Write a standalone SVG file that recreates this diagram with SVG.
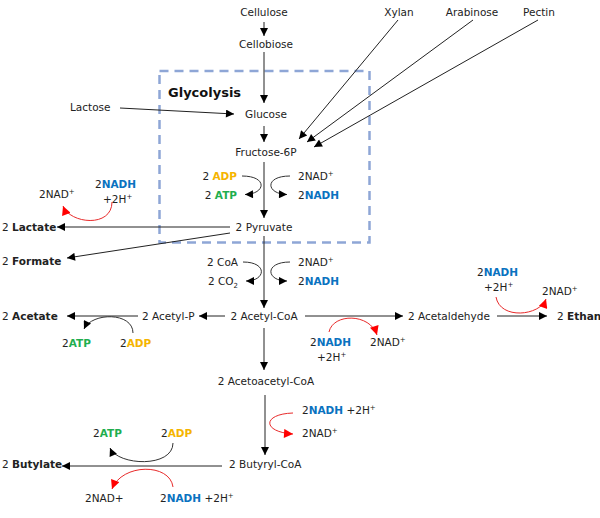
<svg xmlns="http://www.w3.org/2000/svg" width="600" height="518" viewBox="0 0 600 518">
<style>
text{font-family:"DejaVu Sans","Verdana",sans-serif;font-size:10.5px;fill:#222}
.b{font-weight:bold}
.adp{fill:#f5b400;font-weight:bold}
.atp{fill:#1fae4f;font-weight:bold}
.nadh{fill:#0a72c0;font-weight:bold}
.sup{font-size:7px}
.m{text-anchor:middle}
.e{text-anchor:end}
.ln{stroke:#222;stroke-width:1;fill:none;marker-end:url(#ah)}
.cv{stroke:#333;stroke-width:1;fill:none;marker-end:url(#ah)}
.rc{stroke:#e82a2a;stroke-width:1;fill:none;marker-end:url(#rh)}
</style>
<defs>
<marker id="ah" viewBox="0 0 10 10" refX="10" refY="5" markerWidth="10" markerHeight="8" markerUnits="userSpaceOnUse" orient="auto"><path d="M0,0L10,5L0,10z" fill="#000"/></marker>
<marker id="rh" viewBox="0 0 10 10" refX="10" refY="5" markerWidth="10" markerHeight="9" markerUnits="userSpaceOnUse" orient="auto"><path d="M0,0L10,5L0,10z" fill="#f00"/></marker>
</defs>
<rect id="glycolysis-box" x="159.5" y="71" width="210" height="171.5" fill="none" stroke="#8ea6d6" stroke-width="2.5" stroke-dasharray="9,6"/>
<text class="b" x="168" y="97" style="font-size:13px;fill:#111">Glycolysis</text>

<g id="connectors">
<line class="ln" x1="264" y1="22" x2="264" y2="36"/>
<line class="ln" x1="264" y1="52" x2="264" y2="103"/>
<line class="ln" x1="120" y1="108" x2="234" y2="114"/>
<line class="ln" x1="264" y1="126" x2="264" y2="142"/>
<line class="ln" x1="398" y1="20" x2="299" y2="139"/>
<line class="ln" x1="473" y1="20" x2="307" y2="142"/>
<line class="ln" x1="538" y1="20" x2="314" y2="147"/>
<line class="ln" x1="264" y1="162" x2="264" y2="218"/>
<path class="cv" d="M242,176 C268,176 266,194 245,194.5"/>
<path class="cv" d="M290,176 C264,176 266,194 287,194.5"/>
<line class="ln" x1="230" y1="227" x2="57" y2="227"/>
<line class="ln" x1="230" y1="233" x2="67" y2="258"/>
<path class="rc" d="M112,202 C112,228 70,224 63,206"/>
<line class="ln" x1="264" y1="236" x2="264" y2="308"/>
<path class="cv" d="M243,262 C268,262 266,281 246,281"/>
<path class="cv" d="M290,262 C264,262 266,281 287,281"/>
<line class="ln" x1="225" y1="316" x2="199" y2="316"/>
<line class="ln" x1="138" y1="316" x2="67" y2="316"/>
<path class="cv" d="M133,333 C133,312 92,312 84,329"/>
<line class="ln" x1="305" y1="316" x2="403" y2="316"/>
<path class="rc" d="M329,332 C333,313 370,313 377,335"/>
<line class="ln" x1="497" y1="316" x2="547" y2="316"/>
<path class="rc" d="M496,297 C500,320 540,316 546,299"/>
<line class="ln" x1="264" y1="328" x2="264" y2="370"/>
<line class="ln" x1="265" y1="395" x2="265" y2="455"/>
<path class="rc" d="M293,413 C262,414 262,432 293,434"/>
<line class="ln" x1="222" y1="466" x2="62" y2="466"/>
<path class="cv" d="M173,443 C173,468 118,466 110,448"/>
<path class="rc" d="M173,487 C170,463 122,463 112,489"/>
</g>

<g id="cellulose"><text class="m" x="264" y="16">Cellulose</text></g>
<g id="cellobiose"><text class="m" x="266" y="48">Cellobiose</text></g>
<g id="xylan"><text class="m" x="399" y="16">Xylan</text></g>
<g id="arabinose"><text class="m" x="472" y="16">Arabinose</text></g>
<g id="pectin"><text class="m" x="539" y="16">Pectin</text></g>
<g id="lactose"><text x="70" y="111">Lactose</text></g>
<g id="glucose"><text class="m" x="266" y="118">Glucose</text></g>
<g id="fructose"><text class="m" x="266" y="156">Fructose-6P</text></g>
<g id="glyc-atp">
<text class="e" x="237" y="180">2 <tspan class="adp">ADP</tspan></text>
<text class="e" x="237" y="199">2 <tspan class="atp">ATP</tspan></text>
</g>
<g id="glyc-nadh">
<text x="298" y="180">2NAD<tspan class="sup" dy="-4">+</tspan></text>
<text x="298" y="199">2<tspan class="nadh">NADH</tspan></text>
</g>
<g id="pyruvate"><text class="m" x="264" y="231">2 Pyruvate</text></g>
<g id="lactate"><text x="2" y="231">2 <tspan class="b">Lactate</tspan></text></g>
<g id="lactate-cofactors">
<text x="39" y="198">2NAD<tspan class="sup" dy="-4">+</tspan></text>
<text x="95" y="188">2<tspan class="nadh">NADH</tspan></text>
<text x="103" y="203">+2H<tspan class="sup" dy="-4">+</tspan></text>
</g>
<g id="formate"><text x="2" y="265">2 <tspan class="b">Formate</tspan></text></g>
<g id="pdh-left">
<text class="e" x="238" y="266">2 CoA</text>
<text class="e" x="238" y="285">2 CO<tspan class="sup" dy="3">2</tspan></text>
</g>
<g id="pdh-right">
<text x="298" y="266">2NAD<tspan class="sup" dy="-4">+</tspan></text>
<text x="298" y="285">2<tspan class="nadh">NADH</tspan></text>
</g>
<g id="acetyl-coa"><text class="m" x="264" y="320">2 Acetyl-CoA</text></g>
<g id="acetyl-p"><text x="142" y="320">2 Acetyl-P</text></g>
<g id="acetate"><text x="2" y="320">2 <tspan class="b">Acetate</tspan></text></g>
<g id="acetate-cofactors">
<text x="62" y="347">2<tspan class="atp">ATP</tspan></text>
<text x="120" y="347">2<tspan class="adp">ADP</tspan></text>
</g>
<g id="acetaldehyde"><text x="408" y="320">2 Acetaldehyde</text></g>
<g id="acetaldehyde-cofactors">
<text x="310" y="346">2<tspan class="nadh">NADH</tspan></text>
<text x="317" y="361">+2H<tspan class="sup" dy="-4">+</tspan></text>
<text x="370" y="346">2NAD<tspan class="sup" dy="-4">+</tspan></text>
</g>
<g id="ethanol"><text x="557" y="320">2 <tspan class="b">Ethanol</tspan></text></g>
<g id="ethanol-cofactors">
<text x="477" y="276">2<tspan class="nadh">NADH</tspan></text>
<text x="484" y="291">+2H<tspan class="sup" dy="-4">+</tspan></text>
<text x="542" y="295">2NAD<tspan class="sup" dy="-4">+</tspan></text>
</g>
<g id="acetoacetyl-coa"><text class="m" x="266" y="385">2 Acetoacetyl-CoA</text></g>
<g id="acetoacetyl-cofactors">
<text x="302" y="414">2<tspan class="nadh">NADH</tspan> +2H<tspan class="sup" dy="-4">+</tspan></text>
<text x="302" y="437">2NAD<tspan class="sup" dy="-4">+</tspan></text>
</g>
<g id="butyryl-coa"><text x="229" y="468">2 Butyryl-CoA</text></g>
<g id="butylate"><text x="2" y="468">2 <tspan class="b">Butylate</tspan></text></g>
<g id="butylate-cofactors">
<text x="93" y="437">2<tspan class="atp">ATP</tspan></text>
<text x="161" y="437">2<tspan class="adp">ADP</tspan></text>
<text x="85" y="502">2NAD+</text>
<text x="160" y="502">2<tspan class="nadh">NADH</tspan> +2H<tspan class="sup" dy="-4">+</tspan></text>
</g>
</svg>
